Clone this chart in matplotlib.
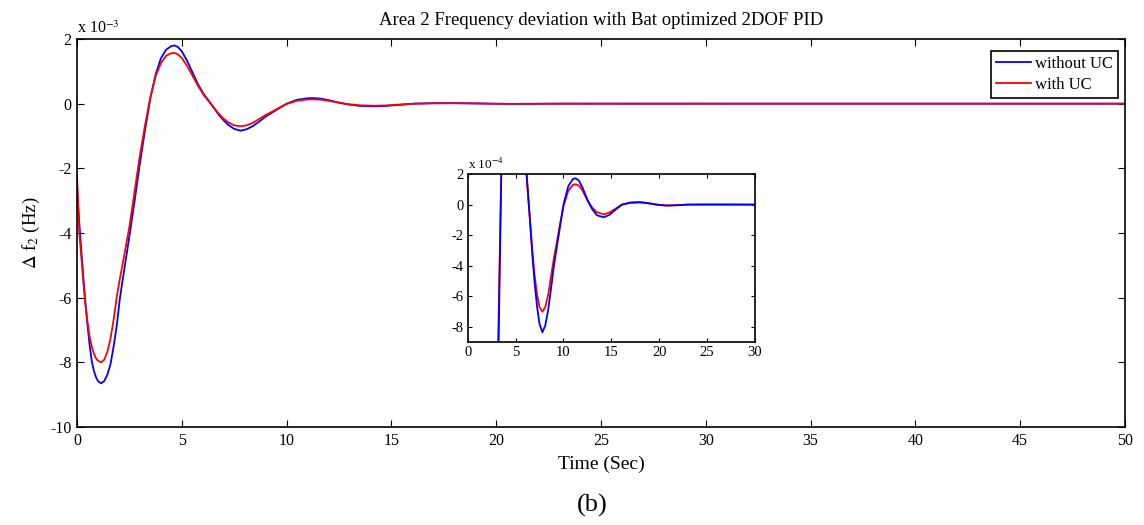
import matplotlib
matplotlib.use("Agg")
import matplotlib.pyplot as plt
from matplotlib.ticker import FuncFormatter, MultipleLocator

plt.rcParams['font.family'] = ['Liberation Serif', 'DejaVu Serif']
plt.rcParams['mathtext.fontset'] = 'stix'

# time (s)
time_s = [0, 0.1, 0.2, 0.3, 0.4, 0.5, 0.6, 0.7, 0.8, 0.9, 1.0, 1.15, 1.3, 1.45, 1.6,
          1.75, 1.9, 2.05, 2.25, 2.5, 2.75, 3.0, 3.25, 3.5, 3.75, 4.0, 4.25, 4.5, 4.65,
          4.8, 5.0, 5.25, 5.5, 5.75, 6.0, 6.25, 6.5, 6.75, 7.0, 7.25, 7.5, 7.8, 8.1,
          8.4, 8.7, 9.0, 9.3, 9.6, 10.0, 10.5, 11.0, 11.25, 11.6, 12.0, 12.5, 13.0,
          13.5, 14.2, 14.8, 15.4, 16.1, 17.0, 18.0, 19.0, 20.0, 20.8, 22.0, 23.0,
          25.0, 30.0, 40.0, 50.0]

# frequency deviation, Hz (read in units of 1e-3)
without_uc = [-2.6, -3.6, -4.5, -5.35, -6.15, -6.85, -7.45, -7.95, -8.25, -8.45, -8.58,
              -8.65, -8.58, -8.38, -8.05, -7.5, -6.85, -6.0, -5.15, -4.1, -3.0, -1.85,
              -0.8, 0.17, 0.9, 1.4, 1.67, 1.78, 1.8, 1.76, 1.62, 1.33, 0.98, 0.63, 0.34,
              0.12, -0.1, -0.33, -0.52, -0.67, -0.78, -0.835, -0.79, -0.69, -0.55, -0.4,
              -0.28, -0.16, 0.0, 0.12, 0.168, 0.172, 0.158, 0.11, 0.03, -0.03, -0.07,
              -0.083, -0.067, -0.035, 0.0, 0.014, 0.017, 0.008, -0.003, -0.007, -0.004,
              0.0, 0.001, 0.0, 0.0, 0.0]
with_uc = [-2.2, -3.9, -4.7, -5.5, -6.2, -6.75, -7.2, -7.5, -7.72, -7.87, -7.95,
           -8.0, -7.92, -7.67, -7.26, -6.67, -5.96, -5.4, -4.7, -3.8, -2.7, -1.6,
           -0.65, 0.2, 0.85, 1.25, 1.48, 1.56, 1.57, 1.53, 1.41, 1.17, 0.88, 0.58, 0.31,
           0.1, -0.1, -0.3, -0.47, -0.59, -0.67, -0.70, -0.67, -0.59, -0.47, -0.35,
           -0.25, -0.14, -0.01, 0.09, 0.13, 0.133, 0.125, 0.09, 0.03, -0.02, -0.05,
           -0.064, -0.052, -0.028, 0.0, 0.011, 0.013, 0.007, -0.002, -0.005, -0.003,
           0.0, 0.0, 0.0, 0.0, 0.0]

without_hz = [v * 1e-3 for v in without_uc]
with_hz = [v * 1e-3 for v in with_uc]

main_yticks = [-10, -8, -6, -4, -2, 0, 2]
inset_yticks = [-8, -6, -4, -2, 0, 2]

W, H = 1144, 525
fig = plt.figure(figsize=(W / 100, H / 100), dpi=100)

def rect(l, t, r, b):
    return [l / W, 1 - b / H, (r - l) / W, (b - t) / H]

ax = fig.add_axes(rect(77, 39, 1125, 427))
ax.plot(time_s, without_hz, color='#0000ff', lw=1.3, label='without UC')
ax.plot(time_s, with_hz, color='#ff0000', lw=1.3, label='with UC')
ax.set_xlim(0, 50)
ax.set_ylim(-10e-3, 2e-3)
ax.xaxis.set_major_locator(MultipleLocator(5))
ax.set_yticks([v * 1e-3 for v in main_yticks])
ax.yaxis.set_major_formatter(FuncFormatter(lambda v, p: f"{round(v / 1e-3):d}"))
ax.tick_params(direction='in', length=5, width=0.8, top=True, right=True,
               labelsize=11.5, pad=4)
for s in ax.spines.values():
    s.set_linewidth(1.2)
ax.set_xlabel('Time (Sec)', fontsize=14, labelpad=5)
ax.set_ylabel(r'$\Delta$ f$_2$ (Hz)', fontsize=13.5, labelpad=6)
ax.set_title('Area 2 Frequency deviation with Bat optimized 2DOF PID', fontsize=13.5, pad=10)
ax.text(0.0, 1.005, r'x 10$^{-3}$', transform=ax.transAxes, fontsize=11.5,
        ha='left', va='bottom')
leg = ax.legend(loc='upper right', bbox_to_anchor=(1118 / W, 1 - 51 / H),
                bbox_transform=fig.transFigure, borderaxespad=0, fancybox=False,
                edgecolor='black', framealpha=1, fontsize=12, handlelength=2.1,
                borderpad=0.3, labelspacing=0.3, handletextpad=0.25)
leg.get_frame().set_linewidth(1.2)

ins = fig.add_axes(rect(467.7, 174, 755, 342.3))
ins.plot(time_s, with_hz, color='#ff0000', lw=1.3)
ins.plot(time_s, without_hz, color='#0000ff', lw=1.3)
ins.set_xlim(0, 30)
ins.set_ylim(-9e-4, 2e-4)
ins.xaxis.set_major_locator(MultipleLocator(5))
ins.set_yticks([v * 1e-4 for v in inset_yticks])
ins.yaxis.set_major_formatter(FuncFormatter(lambda v, p: f"{round(v / 1e-4):d}"))
ins.tick_params(direction='in', length=3, width=0.8, top=True, right=True,
                labelsize=10.5, pad=3)
for s in ins.spines.values():
    s.set_linewidth(1.2)
ins.text(0.0, 1.01, r'x 10$^{-4}$', transform=ins.transAxes, fontsize=9.5,
         ha='left', va='bottom')

fig.text(592 / W, 1 - 505 / H, '(b)', fontsize=19, ha='center', va='center')

fig.savefig('out.png', dpi=100)
